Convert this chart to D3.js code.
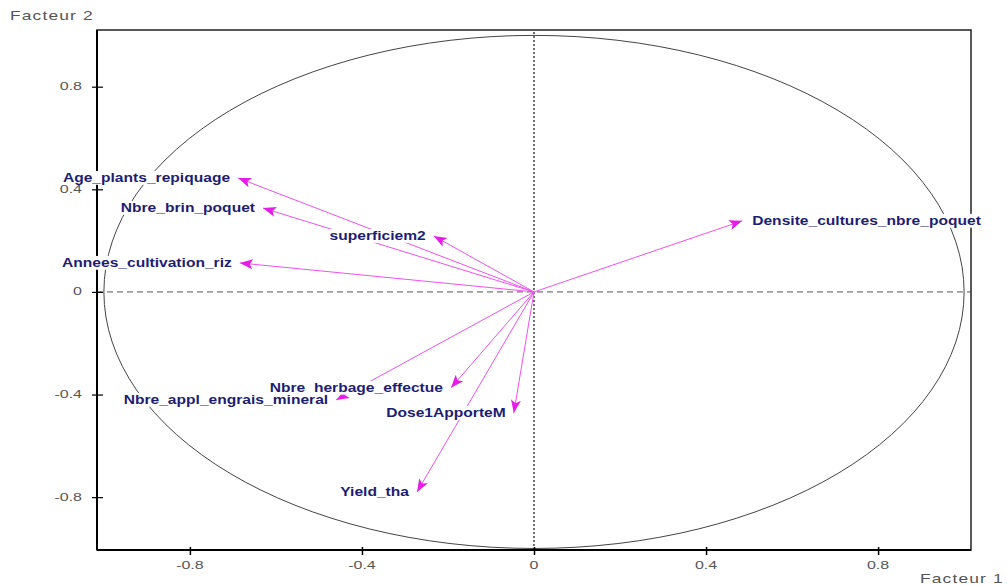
<!DOCTYPE html>
<html>
<head>
<meta charset="utf-8">
<script src="https://cdn.jsdelivr.net/npm/d3@7"></script>
<style>
  body { margin: 0; background: #fff; }
  svg { display: block; font-family: "Liberation Sans", Arial, sans-serif; }
</style>
</head>
<body>
<div id="chart"></div>
<script>
// variable names and their coordinates on the two factors
const variables = [
  "Age_plants_repiquage",
  "Nbre_brin_poquet",
  "superficiem2",
  "Annees_cultivation_riz",
  "Densite_cultures_nbre_poquet",
  "Nbre_herbage_effectue",
  "Nbre_appl_engrais_mineral",
  "Dose1ApporteM",
  "Yield_tha"
];
const factor1 = [-0.688, -0.630, -0.233, -0.684, 0.484, -0.193, -0.460, -0.047, -0.272];
const factor2 = [0.444, 0.327, 0.218, 0.113, 0.277, -0.374, -0.421, -0.472, -0.780];
const xTicks = [-0.8, -0.4, 0, 0.4, 0.8];
const yTicks = [-0.8, -0.4, 0, 0.4, 0.8];

const W = 1007, H = 585;
const margin = { top: 30, right: 36, bottom: 35, left: 97 };

const svg = d3.select("#chart")
  .append("svg")
  .attr("width", W)
  .attr("height", H);

const x = d3.scaleLinear()
  .domain([-1.016, 1.016])
  .range([margin.left, W - margin.right]);

const y = d3.scaleLinear()
  .domain([-1.006, 1.021])
  .range([H - margin.bottom, margin.top]);

// text looks stretched sideways in the original, so scale it on x
function stretchedText(parent, px, py, str, opts) {
  const g = parent.append("g")
    .attr("transform", `translate(${px},${py}) scale(${opts.sx},1)`);
  const t = g.append("text")
    .attr("text-anchor", opts.anchor || "start")
    .attr("dy", "0.35em")
    .attr("font-size", opts.size + "px")
    .attr("font-weight", opts.weight || "normal")
    .attr("letter-spacing", opts.ls || 0)
    .attr("fill", opts.fill)
    .text(str);
  if (opts.bg) {
    const b = t.node().getBBox();
    g.insert("rect", "text")
      .attr("x", b.x - 1)
      .attr("y", b.y)
      .attr("width", b.width + 2)
      .attr("height", b.height)
      .attr("fill", "#fff");
  }
  return g;
}

svg.append("defs")
  .append("marker")
  .attr("id", "head")
  .attr("markerUnits", "userSpaceOnUse")
  .attr("viewBox", "0 -6 14 12")
  .attr("refX", 13)
  .attr("refY", 0)
  .attr("markerWidth", 14)
  .attr("markerHeight", 12)
  .attr("orient", "auto")
  .append("path")
  .attr("d", "M0,-5 L13,0 L0,5 L3,0 Z")
  .attr("fill", "#e81ce8");

// unit circle
svg.append("ellipse")
  .attr("cx", x(0))
  .attr("cy", y(0))
  .attr("rx", x(1) - x(0))
  .attr("ry", y(0) - y(1))
  .attr("fill", "none")
  .attr("stroke", "#444")
  .attr("stroke-width", 1);

// zero lines
svg.append("line")
  .attr("x1", x.range()[0]).attr("x2", x.range()[1])
  .attr("y1", y(0)).attr("y2", y(0))
  .attr("stroke", "#555")
  .attr("stroke-width", 1)
  .attr("stroke-dasharray", "6,4");

svg.append("line")
  .attr("x1", x(0)).attr("x2", x(0))
  .attr("y1", y.range()[0]).attr("y2", y.range()[1])
  .attr("stroke", "#111")
  .attr("stroke-width", 1.2)
  .attr("stroke-dasharray", "2,2");

// frame
svg.append("rect")
  .attr("x", x.range()[0])
  .attr("y", y.range()[1])
  .attr("width", x.range()[1] - x.range()[0])
  .attr("height", y.range()[0] - y.range()[1])
  .attr("fill", "none")
  .attr("stroke", "#222")
  .attr("stroke-width", 1.5);

svg.append("line")
  .attr("x1", x.range()[0]).attr("x2", x.range()[0])
  .attr("y1", y.range()[1]).attr("y2", y.range()[0])
  .attr("stroke", "#000").attr("stroke-width", 2);
svg.append("line")
  .attr("x1", x.range()[0]).attr("x2", x.range()[1])
  .attr("y1", y.range()[0]).attr("y2", y.range()[0])
  .attr("stroke", "#000").attr("stroke-width", 2);

// ticks (they cross the axis lines)
const xAxis = svg.append("g")
  .attr("transform", `translate(0,${y.range()[0]})`)
  .call(d3.axisBottom(x).tickValues(xTicks).tickSize(5).tickFormat(""));
xAxis.select(".domain").remove();
xAxis.selectAll(".tick line").attr("y1", -3).attr("stroke", "#000").attr("stroke-width", 1.5);

const yAxis = svg.append("g")
  .attr("transform", `translate(${x.range()[0]},0)`)
  .call(d3.axisLeft(y).tickValues(yTicks).tickSize(5).tickFormat(""));
yAxis.select(".domain").remove();
yAxis.selectAll(".tick line").attr("x1", 6).attr("stroke", "#000").attr("stroke-width", 1.2);

xTicks.forEach(v => {
  stretchedText(svg, x(v), y.range()[0] + 15, String(v),
    { sx: 1.6, anchor: "middle", size: 10, fill: "#555" });
});
yTicks.forEach(v => {
  stretchedText(svg, x.range()[0] - 15, y(v), String(v),
    { sx: 1.6, anchor: "end", size: 10, fill: "#555" });
});

stretchedText(svg, 10, 16, "Facteur 2", { sx: 1.45, size: 12, ls: 0.8, fill: "#555" });
stretchedText(svg, 920, 579, "Facteur 1", { sx: 1.45, size: 12, ls: 0.8, fill: "#555" });

// arrows
const pts = variables.map((name, i) => ({ name, f1: factor1[i], f2: factor2[i] }));

svg.append("g")
  .selectAll("line")
  .data(pts)
  .join("line")
  .attr("x1", x(0))
  .attr("y1", y(0))
  .attr("x2", d => x(d.f1))
  .attr("y2", d => y(d.f2))
  .attr("stroke", "#f050f0")
  .attr("stroke-width", 1)
  .attr("marker-end", "url(#head)");

// labels with white background (they hide lines behind them)
const labels = svg.append("g");
pts.forEach(d => {
  const right = d.f1 > 0;
  stretchedText(labels, x(d.f1) + (right ? 10 : -8), y(d.f2), d.name, {
    sx: 1.3,
    anchor: right ? "start" : "end",
    size: 12,
    weight: "bold",
    fill: "#1d1d72",
    bg: true
  });
});
</script>
</body>
</html>
